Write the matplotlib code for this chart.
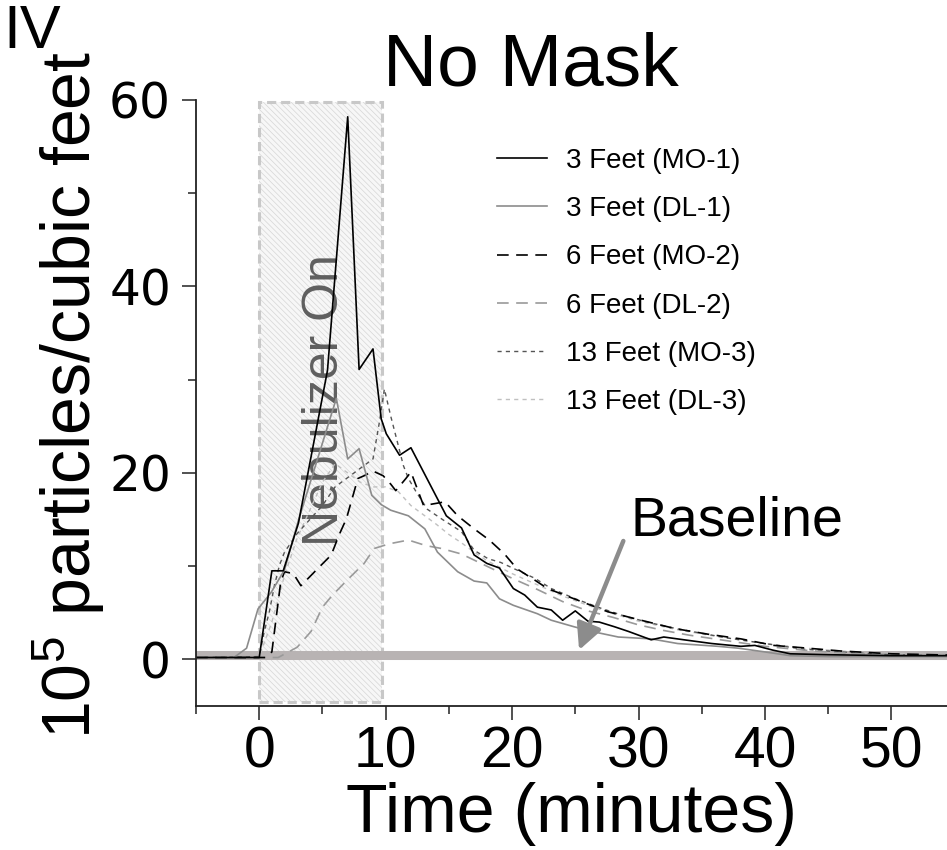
import matplotlib
matplotlib.use("Agg")
import matplotlib.pyplot as plt
from matplotlib.patches import Rectangle

plt.rcParams['font.family'] = ['Liberation Sans', 'DejaVu Sans']
plt.rcParams['mathtext.fontset'] = 'custom'
plt.rcParams['mathtext.rm'] = 'Liberation Sans'
plt.rcParams['hatch.linewidth'] = 0.5

# ---------------- data ----------------
mo1_t = [-5, -1, 0, 1.0, 1.9, 3.1, 5.4, 7.0, 7.9, 9.0, 9.65, 10.05, 11.1, 12.0, 14.8, 16.0,
         17.0, 18.0, 19.0, 20.1, 21.0, 22.0, 23.1, 24.0, 25.0, 26.0, 26.9, 28.1, 29.2, 31.0,
         32.0, 33.6, 35.8, 38.1, 39.2, 40.6, 42, 45, 50, 55]
mo1_v = [0.2, 0.2, 0.2, 9.5, 9.5, 14.6, 31.0, 58.2, 31.1, 33.3, 25.8, 24.2, 21.9, 22.7, 15.4, 14.1,
         11.2, 10.3, 9.8, 7.6, 6.9, 5.6, 5.3, 4.2, 5.2, 4.1, 4.0, 3.5, 3.0, 2.1,
         2.4, 2.1, 1.7, 1.4, 1.5, 1.0, 0.6, 0.5, 0.4, 0.4]

dl1_t = [-5, -2, -1.0, -0.1, 0.95, 2.0, 3.1, 4.5, 6.1, 7.0, 7.9, 8.9, 9.65, 10.4, 11.8, 13.1,
         14.1, 15.7, 17.0, 18.0, 19.0, 20.1, 22.0, 23.1, 24.9, 26.3, 28.4, 31.0, 33.1, 36.3,
         37.9, 40.0, 42, 45, 50, 55]
dl1_v = [0.2, 0.2, 1.2, 5.4, 7.2, 9.6, 14.9, 21.0, 28.0, 21.5, 22.6, 17.6, 16.6, 16.0, 15.4, 14.0,
         11.5, 9.4, 8.4, 8.2, 6.5, 5.8, 4.9, 4.2, 3.5, 3.0, 2.4, 2.2, 1.7, 1.4,
         1.2, 0.8, 0.4, 0.3, 0.3, 0.3]

mo2_t = [-5, 0.5, 1.0, 1.7, 2.0, 2.7, 3.3, 4.6, 5.7, 6.3, 6.9, 7.8, 8.3, 9.0, 9.8, 10.4, 10.8,
         11.6, 12.0, 12.5, 13.0, 14.7, 15.7, 17.0, 18.2, 19.4, 20.4, 21.8, 22.8, 24.9, 27.6,
         30.2, 32.9, 35.5, 38.1, 40.7, 43.4, 46.0, 50.0, 55]
mo2_v = [0.2, 0.2, 0.8, 8.3, 9.4, 9.2, 7.9, 9.7, 11.2, 13.3, 15.1, 19.4, 19.7, 20.2, 19.7, 18.8, 18.1,
         19.4, 20.1, 18.3, 16.5, 16.9, 15.4, 14.0, 12.8, 11.3, 9.7, 8.5, 7.6, 6.5, 5.1,
         4.2, 3.3, 2.7, 2.2, 1.5, 1.2, 0.9, 0.6, 0.45]

dl2_t = [-5, 1.5, 3.0, 4.1, 5.0, 5.8, 7.1, 8.3, 9.1, 10.3, 11.8, 13.2, 14.4, 16.0, 18.0, 20.0,
         22.0, 24.0, 26.0, 28.0, 30.0, 32.0, 34.0, 36.0, 38.0, 40.0, 43.0, 46.0, 50.0, 55]
dl2_v = [0.2, 0.2, 1.3, 3.0, 5.6, 6.9, 8.7, 10.3, 11.9, 12.4, 12.8, 12.2, 11.9, 11.3, 10.0, 8.7,
         7.5, 6.2, 5.2, 4.5, 3.7, 3.1, 2.6, 2.2, 1.8, 1.4, 1.0, 0.7, 0.5, 0.4]

mo3_t = [-5, 0, 0.4, 0.8, 1.2, 1.6, 2.0, 3.0, 4.0, 5.0, 6.0, 7.0, 8.0, 9.0, 9.5, 9.9, 10.4,
         10.8, 11.4, 11.8, 12.4, 13.3, 14.5, 16.0, 17.0, 18.1, 19.1, 20.2, 21.8, 23.1, 25, 27,
         29, 31, 33, 35, 37, 39, 41, 43, 46, 50, 55]
mo3_v = [0.2, 0.3, 3.0, 5.1, 7.9, 10.1, 11.5, 13.5, 15.0, 16.5, 18.5, 19.5, 20.5, 21.5, 25.4, 29.0, 26.1,
         24.0, 20.8, 19.4, 18.0, 16.1, 15.0, 13.7, 11.7, 10.8, 10.4, 9.7, 8.7, 7.6, 6.5, 5.5,
         4.6, 3.9, 3.3, 2.8, 2.3, 1.9, 1.5, 1.1, 0.8, 0.5, 0.4]

dl3_t = [-5, 0, 1, 2, 3, 4, 5, 6, 7, 8, 9, 10, 11, 12, 13, 14, 15, 16, 17, 18, 20, 22, 24,
         26, 28, 30, 33, 36, 40, 44, 48, 55]
dl3_v = [0.2, 0.3, 4.0, 9.0, 13.0, 16.0, 19.0, 21.0, 20.0, 19.0, 18.5, 18.5, 18.0, 16.5, 15.5,
         14.5, 13.4, 12.5, 11.5, 10.6, 9.2, 8.0, 6.8, 5.8, 4.9, 4.1, 3.2, 2.5, 1.7, 1.1, 0.7, 0.4]

labels = ['3 Feet (MO-1)', '3 Feet (DL-1)', '6 Feet (MO-2)',
          '6 Feet (DL-2)', '13 Feet (MO-3)', '13 Feet (DL-3)']

nebulizer_on = (0, 9.7)
baseline_level = 0.45
x_ticks = [0, 10, 20, 30, 40, 50]
y_ticks = [0, 20, 40, 60]

# ---------------- figure ----------------
fig = plt.figure(figsize=(9.47, 8.5), dpi=100)
ax = fig.add_axes([196/947, 1-706/850, 751/947, 606/850])
ax.set_xlim(-5, 54.4)
ax.set_ylim(-5, 60)

# nebulizer box
x0, x1 = nebulizer_on
ax.add_patch(Rectangle((x0, -4.6), x1-x0, 64.4, facecolor='#f7f7f7',
                       edgecolor='#d6d6d6', hatch='\\\\\\\\\\\\', lw=0, zorder=0.5))
ax.add_patch(Rectangle((x0, -4.6), x1-x0, 64.4, facecolor='none',
                       edgecolor='#c8c8c8', lw=2.2, linestyle=(0, (3, 1.6)), zorder=0.6))
ax.text(6.2, 27.8, 'Nebulizer On', rotation=90, rotation_mode='anchor',
        ha='center', va='baseline', fontsize=36, color='#5f5f5f', zorder=0.8)

# baseline band
ax.axhline(baseline_level, color='#b8b3b3', lw=6.5, zorder=0.9)

styles = [
    dict(color='black', lw=1.2, ls='-'),
    dict(color='#8c8c8c', lw=1.2, ls='-'),
    dict(color='black', lw=1.2, ls=(0, (7, 4.5))),
    dict(color='#9a9a9a', lw=1.2, ls=(0, (7, 4.5))),
    dict(color='#555555', lw=1.0, ls=(0, (3, 3))),
    dict(color='#c0c0c0', lw=1.0, ls=(0, (3, 3))),
]
series = [(mo1_t, mo1_v), (dl1_t, dl1_v), (mo2_t, mo2_v),
          (dl2_t, dl2_v), (mo3_t, mo3_v), (dl3_t, dl3_v)]
order = [5, 3, 1, 4, 2, 0]
handles = [None]*6
for i in order:
    t, v = series[i]
    h, = ax.plot(t, v, label=labels[i], zorder=2+(5-i)*0.1, **styles[i])
    handles[i] = h

leg = ax.legend(handles, labels, loc='upper left', bbox_to_anchor=(497/947, 1-148/850),
                bbox_transform=fig.transFigure, frameon=False, fontsize=20,
                handlelength=1.8, handletextpad=0.7, labelspacing=0.8, borderpad=0,
                borderaxespad=0)

# arrow + Baseline text
ax.annotate('', xy=(25.3, 1.0), xytext=(28.8, 12.7),
            arrowprops=dict(arrowstyle='-|>,head_length=0.7,head_width=0.35',
                            color='#8c8c8c', lw=3.2, mutation_scale=22, shrinkA=0, shrinkB=0))
ax.text(29.4, 13.3, 'Baseline', fontsize=40, ha='left', va='baseline')

# axes styling
for s in ['top', 'right']:
    ax.spines[s].set_visible(False)
for s in ['left', 'bottom']:
    ax.spines[s].set_linewidth(1.3)
    ax.spines[s].set_color('#222222')
ax.set_xticks(x_ticks)
ax.set_xticks([-5, 5, 15, 25, 35, 45], minor=True)
ax.set_yticks(y_ticks)
ax.set_yticks([10, 30, 50], minor=True)
ax.tick_params(which='major', direction='out', length=10, width=1.2, color='#333333')
ax.tick_params(which='minor', direction='out', length=6, width=1.2, color='#333333')
ax.tick_params(axis='x', pad=4)
ax.tick_params(axis='y', pad=8)
for lab in ax.get_xticklabels():
    lab.set_fontsize(41)
for lab in ax.get_yticklabels():
    lab.set_family('DejaVu Sans')
    lab.set_fontsize(35)

ax.set_xlabel('Time (minutes)', fontsize=49, labelpad=2)
fig.text(70/947, 0.535, r'10$^{\mathregular{5}}$ particles/cubic feet', rotation=90,
         ha='center', va='center', fontsize=49)
fig.text(0.561, 0.9, 'No Mask', ha='center', va='baseline', fontsize=54)
fig.text(0.004, 0.995, 'IV', ha='left', va='top', fontsize=44)

fig.savefig('out.png', dpi=100)
